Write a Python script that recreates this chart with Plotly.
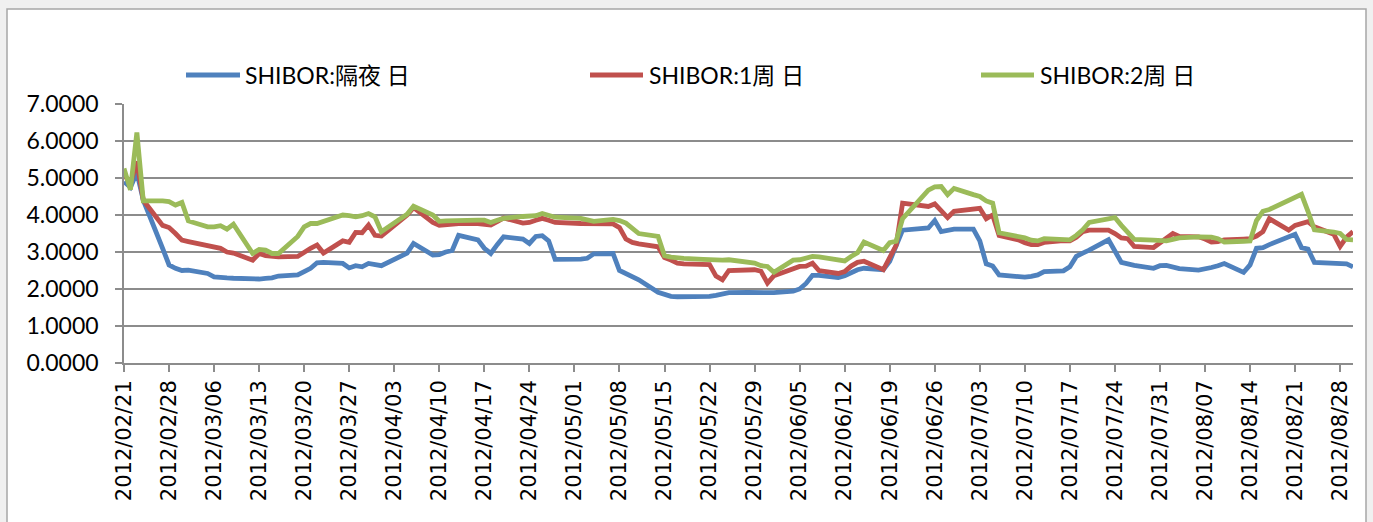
import plotly.graph_objects as go

dates = [
    "2012-02-21", "2012-02-22", "2012-02-23", "2012-02-24",
    "2012-02-27", "2012-02-28", "2012-02-29", "2012-03-01", "2012-03-02",
    "2012-03-05", "2012-03-06", "2012-03-07", "2012-03-08", "2012-03-09",
    "2012-03-12", "2012-03-13", "2012-03-14", "2012-03-15", "2012-03-16",
    "2012-03-19", "2012-03-20", "2012-03-21", "2012-03-22", "2012-03-23",
    "2012-03-26", "2012-03-27", "2012-03-28", "2012-03-29", "2012-03-30", "2012-03-31", "2012-04-01",
    "2012-04-05", "2012-04-06",
    "2012-04-09", "2012-04-10", "2012-04-11", "2012-04-12", "2012-04-13",
    "2012-04-16", "2012-04-17", "2012-04-18", "2012-04-19", "2012-04-20",
    "2012-04-23", "2012-04-24", "2012-04-25", "2012-04-26", "2012-04-27", "2012-04-28",
    "2012-05-02", "2012-05-03", "2012-05-04",
    "2012-05-07", "2012-05-08", "2012-05-09", "2012-05-10", "2012-05-11",
    "2012-05-14", "2012-05-15", "2012-05-16", "2012-05-17", "2012-05-18",
    "2012-05-21", "2012-05-22", "2012-05-23", "2012-05-24", "2012-05-25",
    "2012-05-28", "2012-05-29", "2012-05-30", "2012-05-31", "2012-06-01",
    "2012-06-04", "2012-06-05", "2012-06-06", "2012-06-07", "2012-06-08",
    "2012-06-11", "2012-06-12", "2012-06-13", "2012-06-14", "2012-06-15",
    "2012-06-18", "2012-06-19", "2012-06-20", "2012-06-21",
    "2012-06-25", "2012-06-26", "2012-06-27", "2012-06-28", "2012-06-29",
    "2012-07-02", "2012-07-03", "2012-07-04", "2012-07-05", "2012-07-06",
    "2012-07-09", "2012-07-10", "2012-07-11", "2012-07-12", "2012-07-13",
    "2012-07-16", "2012-07-17", "2012-07-18", "2012-07-19", "2012-07-20",
    "2012-07-23", "2012-07-24", "2012-07-25", "2012-07-26", "2012-07-27",
    "2012-07-30", "2012-07-31", "2012-08-01", "2012-08-02", "2012-08-03",
    "2012-08-06", "2012-08-07", "2012-08-08", "2012-08-09", "2012-08-10",
    "2012-08-13", "2012-08-14", "2012-08-15", "2012-08-16", "2012-08-17",
    "2012-08-20", "2012-08-21", "2012-08-22", "2012-08-23", "2012-08-24",
    "2012-08-27", "2012-08-28", "2012-08-29", "2012-08-30",
]

shibor_on = [
    4.90, 4.75, 5.15, 4.40,
    3.10, 2.65, 2.56, 2.50, 2.51,
    2.42, 2.33, 2.30, 2.30, 2.29,
    2.27, 2.27, 2.29, 2.30, 2.35,
    2.38, 2.47, 2.56, 2.71, 2.72,
    2.69, 2.57, 2.63, 2.60, 2.69, 2.67, 2.63,
    2.97, 3.23,
    2.92, 2.93, 3.00, 3.04, 3.45,
    3.33, 3.10, 2.96, 3.20, 3.41,
    3.35, 3.23, 3.42, 3.44, 3.30, 2.80,
    2.81, 2.83, 2.95,
    2.96, 2.50, 2.42, 2.35, 2.25,
    1.91, 1.85, 1.80, 1.79, 1.79,
    1.79, 1.80, 1.83, 1.87, 1.90,
    1.91, 1.91, 1.91, 1.90, 1.90,
    1.94, 2.00, 2.15, 2.37, 2.37,
    2.31, 2.36, 2.45, 2.52, 2.56,
    2.52, 2.75, 3.15, 3.59,
    3.65, 3.85, 3.55, 3.58, 3.62,
    3.62, 3.30, 2.68, 2.62, 2.38,
    2.33, 2.32, 2.34, 2.38, 2.47,
    2.49, 2.60, 2.88, 2.97, 3.05,
    3.33, 3.05, 2.72, 2.68, 2.64,
    2.56, 2.63, 2.64, 2.58, 2.55,
    2.51, 2.53, 2.58, 2.63, 2.69,
    2.45, 2.65, 3.10, 3.12, 3.20,
    3.40, 3.48, 3.12, 3.08, 2.72,
    2.69, 2.69, 2.68, 2.60,
]

shibor_1w = [
    5.10, 4.85, 5.45, 4.40,
    3.72, 3.66, 3.50, 3.32, 3.28,
    3.17, 3.13, 3.10, 3.00, 2.97,
    2.78, 2.96, 2.90, 2.87, 2.87,
    2.88, 3.00, 3.10, 3.19, 2.97,
    3.30, 3.26, 3.53, 3.52, 3.73, 3.45, 3.43,
    4.00, 4.20,
    3.80, 3.72, 3.74, 3.76, 3.77,
    3.77, 3.76, 3.73, 3.82, 3.92,
    3.78, 3.80, 3.86, 3.91, 3.86, 3.80,
    3.77, 3.77, 3.78,
    3.76, 3.66, 3.35, 3.26, 3.22,
    3.14, 2.85, 2.78, 2.70, 2.68,
    2.66, 2.66, 2.35, 2.25, 2.50,
    2.52, 2.52, 2.48, 2.16, 2.36,
    2.55, 2.61, 2.62, 2.70, 2.50,
    2.42, 2.47, 2.62, 2.72, 2.75,
    2.52, 2.88, 3.18, 4.32,
    4.23, 4.30, 4.10, 3.93, 4.10,
    4.17, 4.18, 3.90, 4.00, 3.45,
    3.33, 3.25, 3.20, 3.20, 3.26,
    3.31, 3.30, 3.40, 3.55, 3.59,
    3.59, 3.50, 3.38, 3.36, 3.15,
    3.12, 3.25, 3.38, 3.50, 3.42,
    3.41, 3.35, 3.27, 3.28, 3.33,
    3.35, 3.36, 3.43, 3.55, 3.90,
    3.59, 3.72, 3.78, 3.82, 3.68,
    3.48, 3.15, 3.40, 3.55,
]

shibor_2w = [
    5.26, 4.68, 6.23, 4.38,
    4.38, 4.36, 4.27, 4.34, 3.84,
    3.68, 3.68, 3.71, 3.62, 3.75,
    2.96, 3.07, 3.05, 2.96, 2.96,
    3.42, 3.68, 3.77, 3.77, 3.82,
    4.00, 3.98, 3.95, 3.98, 4.04, 3.95, 3.55,
    4.02, 4.24,
    4.00, 3.83, 3.84, 3.85, 3.86,
    3.86, 3.86, 3.80, 3.86, 3.91,
    3.96, 3.97, 3.98, 4.04, 3.99, 3.94,
    3.91, 3.88, 3.83,
    3.88, 3.85, 3.78, 3.62, 3.50,
    3.42, 2.90, 2.86, 2.84, 2.83,
    2.80, 2.79, 2.77, 2.78, 2.79,
    2.72, 2.70, 2.63, 2.61, 2.45,
    2.78, 2.79, 2.84, 2.88, 2.87,
    2.78, 2.76, 2.88, 2.98, 3.27,
    3.04, 3.25, 3.29, 3.90,
    4.67, 4.76, 4.77, 4.55, 4.72,
    4.55, 4.50, 4.38, 4.32, 3.52,
    3.42, 3.38, 3.32, 3.30, 3.36,
    3.34, 3.33, 3.45, 3.60, 3.80,
    3.90, 3.93, 3.72, 3.52, 3.34,
    3.32, 3.31, 3.30, 3.34, 3.38,
    3.41, 3.41, 3.40, 3.36, 3.27,
    3.29, 3.30, 3.85, 4.10, 4.15,
    4.38, 4.48, 4.56, 4.10, 3.60,
    3.54, 3.50, 3.34, 3.33,
]

series_names = ["SHIBOR:隔夜 日", "SHIBOR:1周 日", "SHIBOR:2周 日"]
series_values = [shibor_on, shibor_1w, shibor_2w]
colors = ["#4F81BD", "#C0504D", "#9BBB59"]

W, H = 1373, 522
L, R, T, B = 124, 20, 104, 159
PW, PH = W - L - R, H - T - B


def px(x):
    return (x - L) / PW


def py(y):
    return (H - B - y) / PH


fig = go.Figure()
for name, vals, col in zip(series_names, series_values, colors):
    fig.add_trace(go.Scatter(
        x=dates, y=vals, name=name, mode="lines",
        line=dict(color=col, width=4.8), showlegend=False,
    ))

shapes = [
    dict(type="rect", xref="paper", yref="paper",
         x0=px(7), x1=px(1366), y0=py(535), y1=py(9),
         fillcolor="white", line=dict(color="#A6A6A6", width=1.5), layer="below"),
]
annotations = []
legend_items = [(186, 240, 243), (590, 643, 647), (981, 1034, 1038)]
leg_y = 75
for (lx0, lx1, tx), name, col in zip(legend_items, series_names, colors):
    shapes.append(dict(type="line", xref="paper", yref="paper",
                       x0=px(lx0), x1=px(lx1), y0=py(leg_y), y1=py(leg_y),
                       line=dict(color=col, width=4.8)))
    annotations.append(dict(xref="paper", yref="paper", x=px(tx), y=py(leg_y),
                            text=name, showarrow=False, xanchor="left", yanchor="middle",
                            font=dict(family="Lato, Noto Sans CJK SC", size=23, color="black")))

fig.update_layout(
    width=W, height=H,
    margin=dict(l=L, r=R, t=T, b=B),
    paper_bgcolor="#F0F0F0",
    plot_bgcolor="white",
    shapes=shapes,
    annotations=annotations,
    xaxis=dict(
        type="date",
        range=["2012-02-21", "2012-08-30"],
        tick0="2012-02-21", dtick=7 * 86400000,
        tickformat="%Y/%m/%d", tickangle=-90,
        ticks="outside", ticklen=7, tickcolor="#8C8C8C", tickwidth=1.5,
        showline=True, linecolor="#8C8C8C", linewidth=1.5,
        showgrid=False, zeroline=False,
        tickfont=dict(family="DejaVu Sans", size=21, color="black"),
    ),
    yaxis=dict(
        range=[0, 7], dtick=1, tickformat=".4f",
        ticks="outside", ticklen=7, tickcolor="#8C8C8C", tickwidth=1.5,
        showline=True, linecolor="#8C8C8C", linewidth=1.5,
        showgrid=True, gridcolor="#8C8C8C", gridwidth=1.5,
        zeroline=False,
        tickfont=dict(family="Lato", size=23, color="black"),
        ticklabelstandoff=12,
    ),
)

fig.write_html("out.html", config={"displayModeBar": False},
               post_script="document.body.style.margin='0';")
